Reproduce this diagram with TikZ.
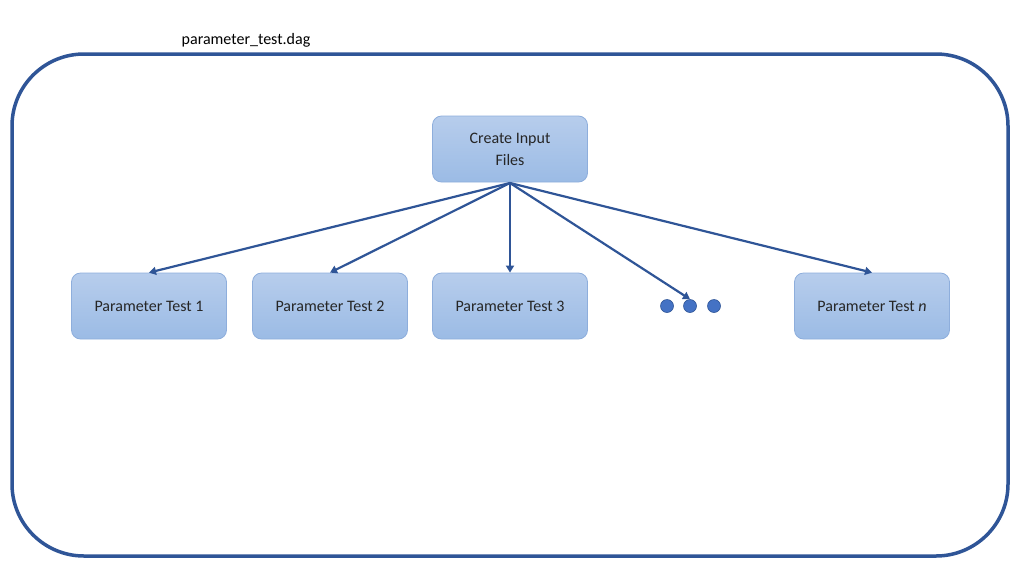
\documentclass[tikz,border=0pt]{standalone}
\usepackage{fontspec}
\setmainfont{Carlito}
\usetikzlibrary{arrows.meta}
\definecolor{dark}{HTML}{2F5597}
\definecolor{ntop}{HTML}{B7CDEC}
\definecolor{nbot}{HTML}{9BBBE5}
\definecolor{nedge}{HTML}{8EAEDC}
\definecolor{dotc}{HTML}{4472C4}
\begin{document}
\begin{tikzpicture}[x=1pt,y=-1pt,
  box/.style={draw=nedge,line width=0.8pt,rounded corners=9pt,top color=ntop,bottom color=nbot,
    minimum width=155pt,minimum height=66pt,align=center,font=\fontsize{16}{22}\selectfont,text=black!85},
  dot/.style={circle,fill=dotc,draw=dark,line width=0.6pt,minimum size=13pt,inner sep=0pt},
  arr/.style={draw=dark,line width=2.2pt,-{Triangle[length=7pt,width=8pt]}}]
\useasboundingbox (0,0) rectangle (1024,576);
\draw[dark,line width=3.5pt,rounded corners=72pt] (12,54) rectangle (1008,556);
\node[font=\fontsize{16}{19}\selectfont] (title) at (246,40) {parameter\_test.dag};
\node[box] (top) at (510,149) {Create Input\\Files};
\node[box] (p1) at (149,306) {Parameter Test 1};
\node[box] (p2) at (330,306) {Parameter Test 2};
\node[box] (p3) at (510,306) {Parameter Test 3};
\node[box] (pn) at (872,306) {Parameter Test \textit{n}};
\node[dot] (d1) at (667,306) {};
\node[dot] (d2) at (690,306) {};
\node[dot] (d3) at (714,306) {};
\coordinate (s) at (510,183);
\draw[arr] (s) -- (p1.north);
\draw[arr] (s) -- (p2.north);
\draw[arr] (s) -- (p3.north);
\draw[arr] (s) -- (d2.north);
\draw[arr] (s) -- (pn.north);
\end{tikzpicture}
\end{document}
